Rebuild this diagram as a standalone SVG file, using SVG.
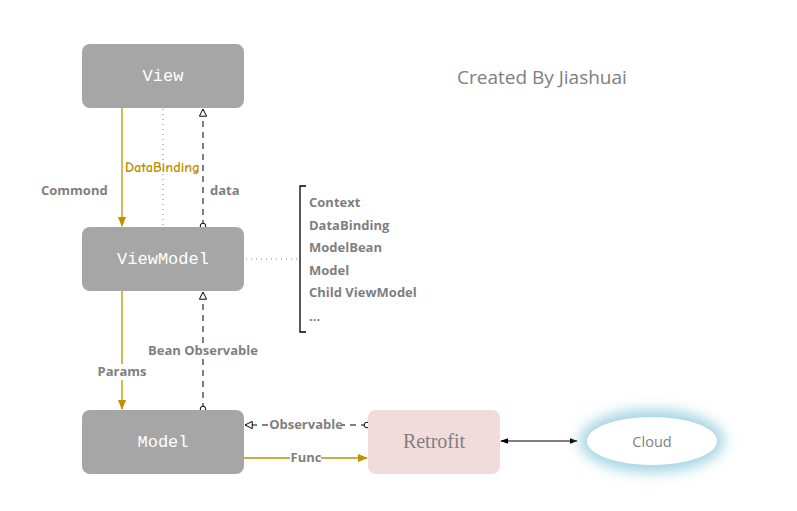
<svg xmlns="http://www.w3.org/2000/svg" width="797" height="511" viewBox="0 0 797 511">
<style>
.box{fill:#a6a6a6}
.nt{font-family:"Liberation Mono","DejaVu Sans Mono",monospace;font-size:17px;fill:#ffffff;text-anchor:middle}
.lb{font-family:"Open Sans","Noto Sans",sans-serif;font-weight:bold;font-size:13px;fill:#7f7f7f}
.gold{stroke:#bf9000;stroke-width:1.3;fill:none}
.dash{stroke:#000;stroke-width:1;stroke-dasharray:6,5;fill:none}
.dot{stroke:#808080;stroke-width:1;stroke-dasharray:1,4;fill:none}
</style>
<defs>
<marker id="ag" viewBox="0 0 10 10" refX="9" refY="5" markerWidth="8" markerHeight="8" orient="auto"><path d="M0,1 L10,5 L0,9 Z" fill="#bf9000"/></marker>
<marker id="ao" viewBox="0 0 10 10" refX="9" refY="5" markerWidth="9" markerHeight="9" orient="auto"><path d="M1,1 L9,5 L1,9 Z" fill="#fff" stroke="#000" stroke-width="1.1"/></marker>
<marker id="ab" viewBox="0 0 10 10" refX="9" refY="5" markerWidth="8" markerHeight="8" orient="auto-start-reverse"><path d="M0,1.5 L10,5 L0,8.5 Z" fill="#000"/></marker>
<marker id="co" viewBox="0 0 10 10" refX="5" refY="5" markerWidth="8" markerHeight="8"><circle cx="5" cy="5" r="3.5" fill="#fff" stroke="#000" stroke-width="1.2"/></marker>
<filter id="glow" x="-40%" y="-60%" width="180%" height="220%"><feGaussianBlur stdDeviation="7"/></filter>
</defs>
<rect width="797" height="511" fill="#fff"/>
<g id="connectors">
<line class="gold" x1="122" y1="108" x2="122" y2="226" marker-end="url(#ag)"/>
<line class="gold" x1="122" y1="291" x2="122" y2="409" marker-end="url(#ag)"/>
<line class="dot" x1="163" y1="109" x2="163" y2="227"/>
<line class="dash" x1="203" y1="226" x2="203" y2="109" marker-start="url(#co)" marker-end="url(#ao)"/>
<line class="dash" x1="203" y1="409" x2="203" y2="292" marker-start="url(#co)" marker-end="url(#ao)"/>
<line class="dot" x1="216" y1="259" x2="298" y2="259"/>
<line class="dash" x1="367" y1="425" x2="245" y2="425" marker-start="url(#co)" marker-end="url(#ao)"/>
<line class="gold" x1="244" y1="458" x2="367" y2="458" marker-end="url(#ag)"/>
<line stroke="#000" stroke-width="1" x1="501" y1="441" x2="577" y2="441" marker-start="url(#ab)" marker-end="url(#ab)"/>
<path d="M306,186 H300 V332 H306" fill="none" stroke="#000" stroke-width="1.3"/>
<text x="125" y="172" font-family="'Comic Neue','DejaVu Sans',sans-serif" font-weight="bold" font-size="13" fill="#bf9000" textLength="75" lengthAdjust="spacingAndGlyphs">DataBinding</text>
<text class="lb" x="41" y="195">Commond</text>
<text class="lb" x="210" y="195">data</text>
<rect x="150" y="343" width="107" height="16" fill="#fff"/>
<text class="lb" x="203" y="355" text-anchor="middle">Bean Observable</text>
<rect x="98" y="364" width="48" height="16" fill="#fff"/>
<text class="lb" x="122" y="376" text-anchor="middle">Params</text>
<rect x="270" y="417" width="72" height="16" fill="#fff"/>
<text class="lb" x="306" y="429" text-anchor="middle">Observable</text>
<rect x="290" y="450" width="31" height="16" fill="#fff"/>
<text class="lb" x="306" y="462" text-anchor="middle">Func</text>
</g>
<g id="view"><rect class="box" x="82" y="44" width="162" height="64" rx="8"/><text class="nt" x="163" y="81">View</text></g>
<g id="viewmodel"><rect class="box" x="82" y="227" width="162" height="64" rx="8"/><text class="nt" x="163" y="264">ViewModel</text></g>
<g id="model"><rect class="box" x="82" y="410" width="162" height="64" rx="8"/><text class="nt" x="163" y="447">Model</text></g>
<g id="retrofit"><rect x="368" y="410" width="132" height="64" rx="8" fill="#f2dcdb"/><text x="434" y="448" font-family="'Liberation Serif',serif" font-size="20" fill="#808080" text-anchor="middle">Retrofit</text></g>
<g id="cloud"><ellipse cx="652" cy="441" rx="72" ry="31" fill="#9fd3e1" filter="url(#glow)"/><ellipse cx="652" cy="441" rx="65" ry="24" fill="#fff"/><text x="652" y="447" font-family="'Open Sans','Noto Sans',sans-serif" font-size="14.5" fill="#7f7f7f" text-anchor="middle">Cloud</text></g>
<g id="members">
<text class="lb" x="309" y="207">Context</text>
<text class="lb" x="309" y="230">DataBinding</text>
<text class="lb" x="309" y="252">ModelBean</text>
<text class="lb" x="309" y="275">Model</text>
<text class="lb" x="309" y="297">Child ViewModel</text>
<text class="lb" x="309" y="321">...</text>
</g>
<text x="457" y="84" font-family="'Open Sans','Noto Sans',sans-serif" font-size="19" fill="#808080">Created By Jiashuai</text>
</svg>
